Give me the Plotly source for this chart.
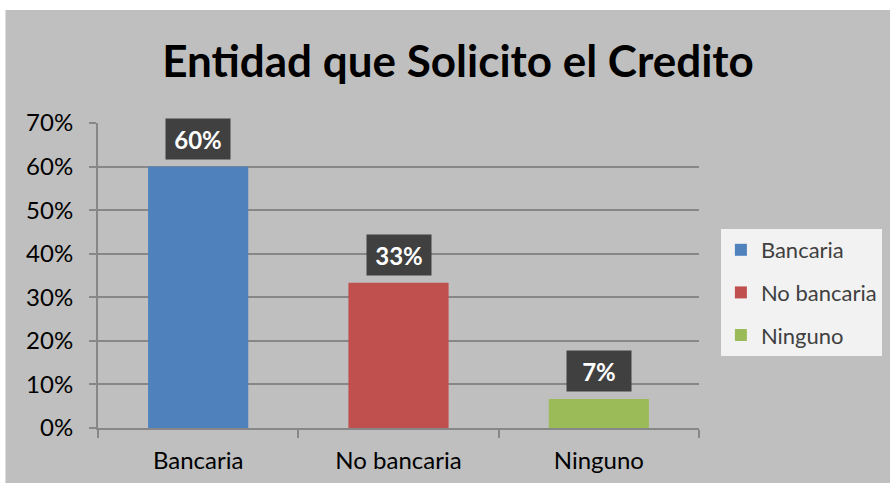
import plotly.graph_objects as go

categories = ["Bancaria", "No bancaria", "Ninguno"]
values = [0.60, 0.3333, 0.0667]
colors = ["#4f81bd", "#c0504d", "#9bbb59"]
y_ticks = [0, 0.1, 0.2, 0.3, 0.4, 0.5, 0.6, 0.7]
title_text = "Entidad que Solicito el Credito"

FONT = "Lato"
GRID = "#878787"

W, H = 894, 485
L, R, T, B = 98, 192, 123, 57
pw = W - L - R
ph = H - T - B


def px_x(sx):
    return (sx - L) / pw


def px_y(sy):
    return (H - B - sy) / ph


fig = go.Figure()
for i, (cat, val, col) in enumerate(zip(categories, values, colors)):
    fig.add_trace(go.Bar(
        x=[cat], y=[val], name=cat, marker=dict(color=col, line=dict(width=0)),
        legendgroup=f"g{i}", showlegend=True, hoverinfo="skip",
    ))
    fig.add_annotation(
        x=cat, y=val, xref="x", yref="y", yanchor="bottom", yshift=7,
        text=f"<b>{val:.0%}</b>", showarrow=False,
        font=dict(family=FONT, size=24, color="white"),
        bgcolor="#404040", width=64, height=40, borderpad=0, valign="middle",
    )

# gray chart background (thin white border at left/top)
fig.add_shape(type="rect", xref="paper", yref="paper",
              x0=px_x(5), x1=px_x(W),
              y0=px_y(483), y1=px_y(10),
              fillcolor="#bfbfbf", line=dict(width=0), layer="below")

fig.update_layout(
    width=W, height=H,
    margin=dict(l=L, r=R, t=T, b=B),
    paper_bgcolor="white",
    plot_bgcolor="rgba(0,0,0,0)",
    barmode="overlay",
    bargap=0.5,
    font=dict(family=FONT, color="#000000"),
    title=dict(text=f"<b>{title_text}</b>", x=458 / W, xanchor="center",
               y=1 - 62 / H, yanchor="middle",
               font=dict(family=FONT, size=44, color="#000000")),
    legend=dict(
        x=px_x(724), xanchor="left", y=px_y(229), yanchor="top",
        bgcolor="#f2f2f2", borderwidth=0,
        font=dict(family=FONT, size=22, color="#404040"),
        traceorder="grouped", tracegroupgap=11,
    ),
    xaxis=dict(
        type="category", range=[-0.5, 2.5],
        showline=True, linecolor=GRID, linewidth=2,
        ticks="outside", tickson="boundaries", ticklen=8, tickcolor=GRID, tickwidth=2,
        showgrid=False, tickfont=dict(family=FONT, size=24, color="#000000"),
        ticklabelstandoff=10,
    ),
    yaxis=dict(
        range=[0, 0.7], tickvals=y_ticks, tickformat=".0%",
        showline=True, linecolor=GRID, linewidth=2,
        ticks="outside", ticklen=7, tickcolor=GRID, tickwidth=2,
        showgrid=True, gridcolor=GRID, gridwidth=2, zeroline=False,
        tickfont=dict(family=FONT, size=24, color="#000000"),
        ticklabelstandoff=11,
    ),
)

fig.write_html(
    "out.html",
    config={"displayModeBar": False},
    post_script="document.body.style.margin='0';"
                "document.documentElement.style.overflow='hidden';",
)
